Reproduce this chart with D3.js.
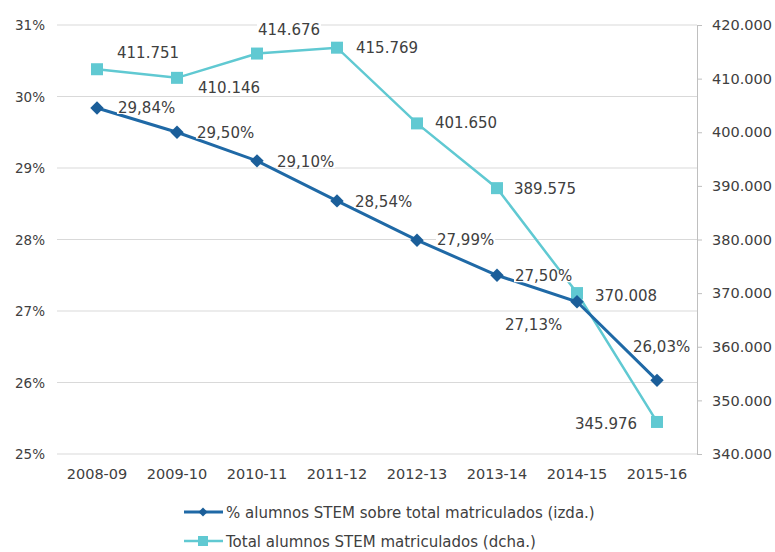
<!doctype html>
<html>
  <head>
    <meta charset="utf-8">
    <title>Alumnos STEM</title>
    <script src="https://cdnjs.cloudflare.com/ajax/libs/d3/7.8.5/d3.min.js"></script>
    <style>
      body { margin: 0; background: #fff; }
      text { font-family: "DejaVu Sans", Verdana, sans-serif; fill: #404040; }
    </style>
  </head>
  <body>
    <div id="chart"></div>
    <script>
      // data
      const cursos = ['2008-09','2009-10','2010-11','2011-12','2012-13','2013-14','2014-15','2015-16'];
      const pctStem = [29.84, 29.50, 29.10, 28.54, 27.99, 27.50, 27.13, 26.03];
      const totalStem = [411751, 410146, 414676, 415769, 401650, 389575, 370008, 345976];
      const leftTicks = [25, 26, 27, 28, 29, 30, 31];
      const rightTicks = [340000, 350000, 360000, 370000, 380000, 390000, 400000, 410000, 420000];
      const legendNames = ['% alumnos STEM sobre total matriculados (izda.)', 'Total alumnos STEM matriculados (dcha.)'];

      // label offsets (layout only)
      const pctLabelOff = [[21,5],[20,5.5],[20,6],[18,6],[20,5],[18,6],[-72,28],[-24,-28]];
      const totLabelOff = [[20,-11.5],[21,15.5],[1,-19],[19,5],[18,5],[17,5.5],[18,7.5],[-82,7.5]];

      const W = 775, H = 552;
      const mLeft = 57, mRight = 697, mTop = 25, mBottom = 454;
      const darkBlue = '#1f69a6', darkMark = '#1b5e99', cyan = '#60c9d2';

      const svg = d3.select('#chart').append('svg')
        .attr('width', W).attr('height', H);

      const x = d3.scaleBand().domain(cursos).range([mLeft, mRight]);
      const yL = d3.scaleLinear().domain([25, 31]).range([mBottom, mTop]);
      const yR = d3.scaleLinear().domain([340000, 420000]).range([mBottom, mTop]);

      const fmtPct = d => d3.format('.2f')(d).replace('.', ',') + '%';
      const fmtNum = d => d3.format(',')(d).replace(/,/g, '.');

      // gridlines
      svg.append('g').selectAll('line').data(leftTicks).join('line')
        .attr('x1', mLeft).attr('x2', mRight)
        .attr('y1', d => yL(d)).attr('y2', d => yL(d))
        .attr('stroke', '#d9d9d9').attr('stroke-width', 1);

      // left axis labels
      svg.append('g').selectAll('text').data(leftTicks).join('text')
        .attr('x', 45).attr('y', d => yL(d) + 5)
        .attr('text-anchor', 'end').attr('font-size', 13.5)
        .text(d => d + '%');

      // right axis
      const gR = svg.append('g').attr('transform', `translate(${mRight},0)`)
        .call(d3.axisRight(yR).tickValues(rightTicks).tickSize(5).tickPadding(10).tickFormat(fmtNum));
      gR.select('.domain').attr('stroke', '#bfbfbf');
      gR.selectAll('.tick line').attr('stroke', '#bfbfbf');
      gR.selectAll('.tick text').attr('font-size', 14.5).attr('fill', '#404040')
        .attr('font-family', '"DejaVu Sans", Verdana, sans-serif');

      // x labels
      svg.append('g').selectAll('text').data(cursos).join('text')
        .attr('x', d => x(d) + x.bandwidth() / 2).attr('y', 479)
        .attr('text-anchor', 'middle').attr('font-size', 14.5)
        .text(d => d);

      const cx = (d, i) => x(cursos[i]) + x.bandwidth() / 2;

      // total series (right axis)
      svg.append('path').datum(totalStem)
        .attr('fill', 'none').attr('stroke', cyan).attr('stroke-width', 2.5)
        .attr('d', d3.line().x(cx).y(d => yR(d)));
      svg.append('g').selectAll('rect').data(totalStem).join('rect')
        .attr('x', (d, i) => cx(d, i) - 6).attr('y', d => yR(d) - 6)
        .attr('width', 12).attr('height', 12).attr('fill', cyan);

      // pct series (left axis)
      svg.append('path').datum(pctStem)
        .attr('fill', 'none').attr('stroke', darkBlue).attr('stroke-width', 3)
        .attr('d', d3.line().x(cx).y(d => yL(d)));
      svg.append('g').selectAll('path').data(pctStem).join('path')
        .attr('transform', (d, i) => `translate(${cx(d, i)},${yL(d)}) rotate(45)`)
        .attr('d', d3.symbol(d3.symbolSquare, 90))
        .attr('fill', darkMark);

      // data labels, white box behind
      function addLabels(vals, yS, fmt, off) {
        const g = svg.append('g').selectAll('g').data(vals).join('g')
          .attr('transform', (d, i) => `translate(${cx(d, i) + off[i][0]},${yS(d) + off[i][1]})`);
        g.append('text').attr('font-size', 15).text(fmt);
        g.each(function() {
          const b = d3.select(this).select('text').node().getBBox();
          d3.select(this).insert('rect', 'text')
            .attr('x', b.x - 1).attr('y', b.y + 3).attr('width', b.width + 2).attr('height', b.height - 6)
            .attr('fill', '#fff');
        });
      }
      addLabels(totalStem, yR, fmtNum, totLabelOff);
      addLabels(pctStem, yL, fmtPct, pctLabelOff);

      // legend
      const leg = svg.append('g');
      const legY = [512, 541];
      leg.append('line').attr('x1', 184).attr('x2', 223).attr('y1', legY[0]).attr('y2', legY[0])
        .attr('stroke', darkBlue).attr('stroke-width', 3);
      leg.append('path').attr('transform', `translate(203,${legY[0]}) rotate(45)`)
        .attr('d', d3.symbol(d3.symbolSquare, 40)).attr('fill', darkMark);
      leg.append('line').attr('x1', 184).attr('x2', 223).attr('y1', legY[1]).attr('y2', legY[1])
        .attr('stroke', cyan).attr('stroke-width', 2.5);
      leg.append('rect').attr('x', 198).attr('y', legY[1] - 5).attr('width', 10).attr('height', 10)
        .attr('fill', cyan);
      leg.selectAll('text').data(legendNames).join('text')
        .attr('x', 226).attr('y', (d, i) => legY[i] + 5.5)
        .attr('font-size', 15).text(d => d);
    </script>
  </body>
</html>
